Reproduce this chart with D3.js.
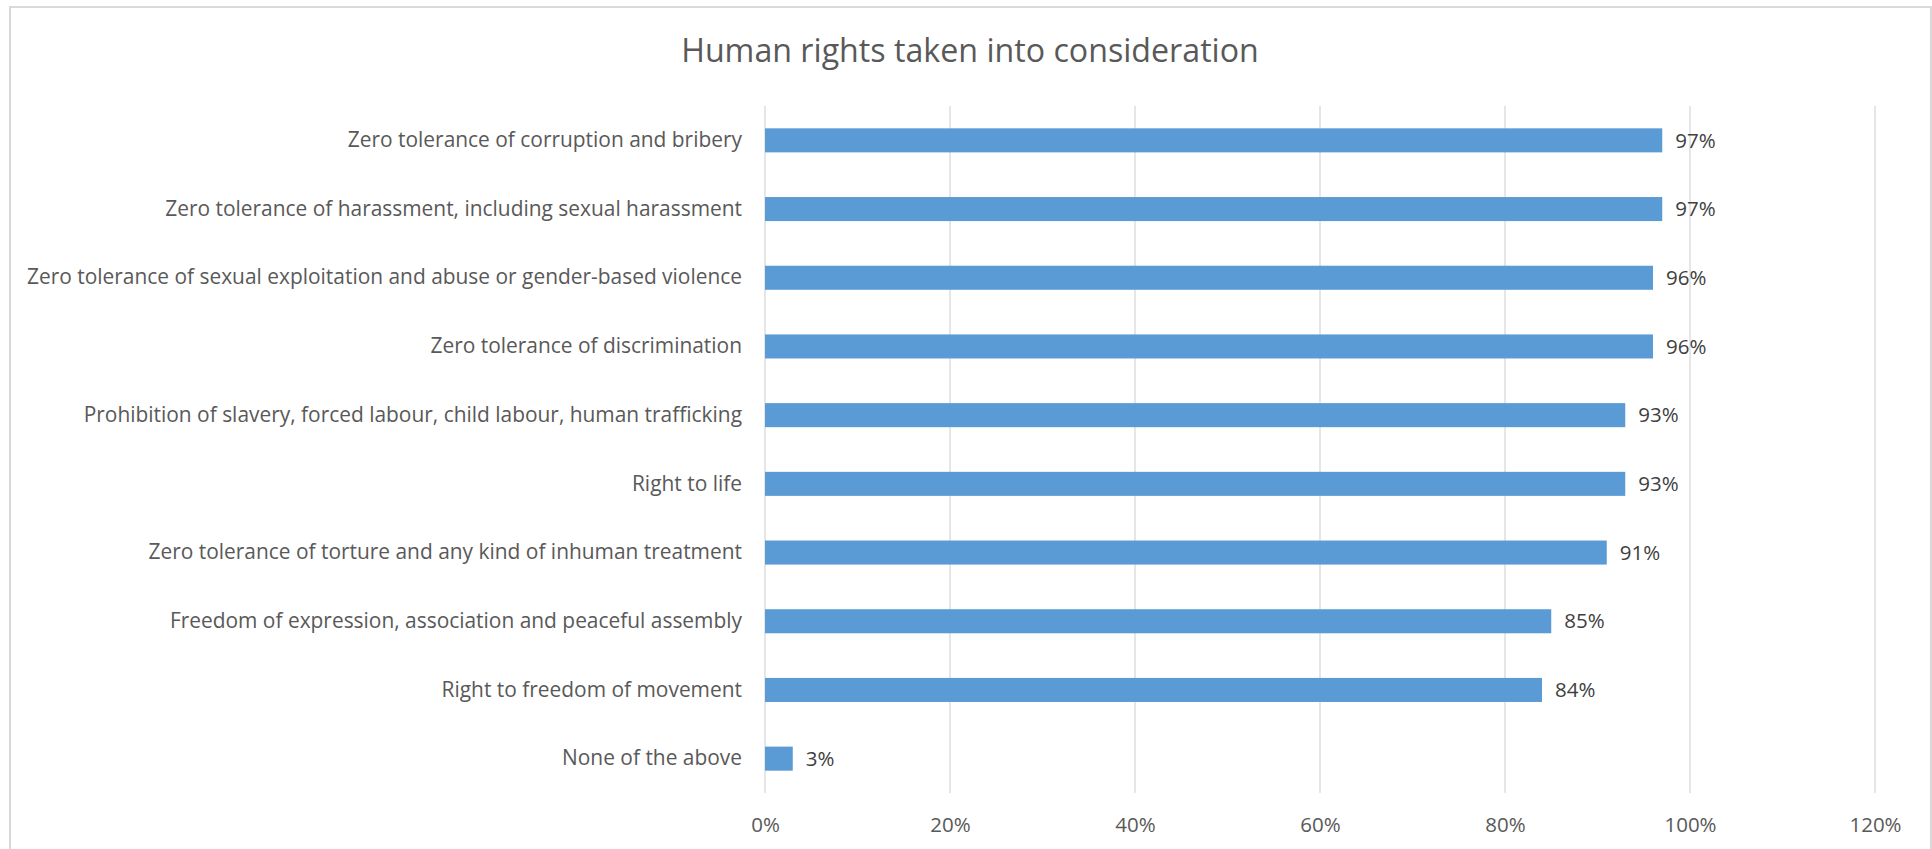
<!DOCTYPE html>
<html>
<head>
<meta charset="utf-8">
<script src="https://cdn.jsdelivr.net/npm/d3@7"></script>
<style>
  html, body { margin: 0; padding: 0; background: #fff; }
  svg { display: block; }
</style>
</head>
<body>
<svg id="chart" width="1932" height="849"></svg>
<script>
// Survey responses: share of respondents taking each right into consideration
const categories = [
  "Zero tolerance of corruption and bribery",
  "Zero tolerance of harassment, including sexual harassment",
  "Zero tolerance of sexual exploitation and abuse or gender-based violence",
  "Zero tolerance of discrimination",
  "Prohibition of slavery, forced labour, child labour, human trafficking",
  "Right to life",
  "Zero tolerance of torture and any kind of inhuman treatment",
  "Freedom of expression, association and peaceful assembly",
  "Right to freedom of movement",
  "None of the above"
];
const values = [0.97, 0.97, 0.96, 0.96, 0.93, 0.93, 0.91, 0.85, 0.84, 0.03];
const tickValues = [0, 0.2, 0.4, 0.6, 0.8, 1.0, 1.2];
const titleText = "Human rights taken into consideration";

const FONT = "'Open Sans', Lato, sans-serif";
const TEXT = "#595959";

const svg = d3.select("#chart");

// size a text selection so its widest line spans the given width
function fitWidth(sel, target) {
  let widest = 0;
  sel.each(function () { widest = Math.max(widest, this.getComputedTextLength()); });
  const size = parseFloat(sel.attr("font-size"));
  if (widest > 0) sel.attr("font-size", (size * target / widest).toFixed(2));
}

// chart frame
svg.append("rect")
  .attr("x", 10).attr("y", 7)
  .attr("width", 1921).attr("height", 860)
  .attr("fill", "#fff")
  .attr("stroke", "#d9d9d9")
  .attr("stroke-width", 2);

const plot = { left: 765, right: 1875, top: 106, bottom: 793 };

const x = d3.scaleLinear()
  .domain([0, 1.2])
  .range([plot.left, plot.right]);

const y = d3.scaleBand()
  .domain(categories)
  .range([plot.top, plot.bottom])
  .paddingInner(0.65)
  .paddingOuter(0.325);

// title
const title = svg.append("text")
  .attr("x", 970).attr("y", 62)
  .attr("text-anchor", "middle")
  .attr("font-family", FONT)
  .attr("font-size", 32)
  .attr("fill", TEXT)
  .text(titleText);
fitWidth(title, 578);

// vertical gridlines
svg.append("g")
  .selectAll("line")
  .data(tickValues)
  .join("line")
  .attr("x1", d => x(d)).attr("x2", d => x(d))
  .attr("y1", plot.top).attr("y2", plot.bottom)
  .attr("stroke", "#d9d9d9")
  .attr("stroke-width", 1.3);

// x axis tick labels
const xAxis = d3.axisBottom(x)
  .tickValues(tickValues)
  .tickFormat(d3.format(".0%"))
  .tickSize(0)
  .tickPadding(0);

const gx = svg.append("g")
  .attr("transform", `translate(0, ${plot.bottom + 32})`)
  .call(xAxis);
gx.select(".domain").remove();
gx.selectAll("text")
  .attr("font-family", FONT)
  .attr("font-size", 20.5)
  .attr("fill", TEXT)
  .attr("dy", "0.35em")
  .attr("y", 0);

// category labels
const yAxis = d3.axisLeft(y).tickSize(0).tickPadding(23);
const gy = svg.append("g")
  .attr("transform", `translate(${plot.left}, 0)`)
  .call(yAxis);
gy.select(".domain").remove();
const catLabels = gy.selectAll("text")
  .attr("font-family", FONT)
  .attr("font-size", 20)
  .attr("fill", TEXT);
fitWidth(catLabels, 715);

// bars
const rows = categories.map((c, i) => ({ c, v: values[i] }));

svg.append("g")
  .selectAll("rect")
  .data(rows)
  .join("rect")
  .attr("x", x(0))
  .attr("y", d => y(d.c))
  .attr("width", d => x(d.v) - x(0))
  .attr("height", y.bandwidth())
  .attr("fill", "#5b9bd5");

// value labels
svg.append("g")
  .selectAll("text")
  .data(rows)
  .join("text")
  .attr("x", d => x(d.v) + 13)
  .attr("y", d => y(d.c) + y.bandwidth() / 2)
  .attr("dy", "0.35em")
  .attr("font-family", FONT)
  .attr("font-size", 20.5)
  .attr("fill", "#404040")
  .text(d => d3.format(".0%")(d.v));
</script>
</body>
</html>
